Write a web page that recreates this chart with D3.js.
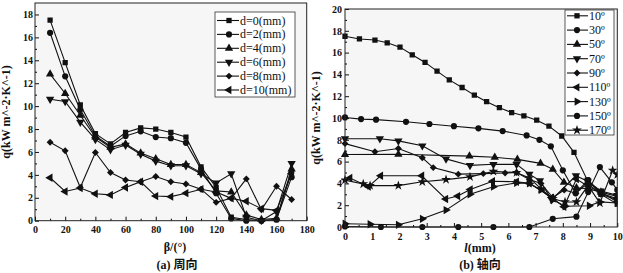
<!DOCTYPE html>
<html>
<head>
<meta charset="utf-8">
<script src="https://cdn.jsdelivr.net/npm/d3@7"></script>
<style>
	body{ margin:0; background:#fff; }
	svg text{ font-family:"Liberation Serif","Times New Roman",serif; fill:#111; }
	.cap{ font-family:"Liberation Serif","Noto Sans CJK SC",serif; }
</style>
</head>
<body>
<svg id="chart" width="623" height="273"></svg>
<script>
// (a) circumferential: q vs beta for each d
var beta = [10, 20, 30, 40, 50, 60, 70, 80, 90, 100, 110, 120, 130, 140, 150, 160, 170];
var d0  = [17.5, 13.8, 10.1, 7.6, 6.7, 7.7, 8.1, 8.0, 7.7, 7.3, 4.7, 2.9, 0.3, 0.1, 0.0, 0.1, 4.3];
var d2  = [16.4, 12.6, 9.7, 7.4, 6.5, 7.4, 7.8, 7.3, 7.2, 6.8, 4.5, 2.4, 0.2, 0.0, 0.0, 0.1, 3.8];
var d4  = [12.8, 11.1, 9.2, 7.3, 6.4, 6.7, 5.9, 5.4, 4.9, 4.9, 4.2, 2.6, 2.5, 0.5, 0.1, 0.2, 4.5];
var d6  = [10.6, 10.4, 8.6, 7.1, 6.2, 6.6, 5.8, 5.2, 4.8, 4.8, 4.1, 3.3, 4.1, 0.3, 0.0, 0.8, 5.0];
var d8  = [6.85, 6.1, 2.9, 5.95, 4.2, 3.55, 3.4, 3.85, 3.4, 3.2, 2.75, 1.6, 1.95, 3.65, 0.95, 3.0, 1.85];
var d10 = [3.75, 2.55, 2.85, 2.35, 2.25, 2.9, 3.4, 2.15, 2.1, 2.4, 2.75, 2.5, 1.95, 1.7, 1.05, 0.9, 4.1];
var dLabels = ["d=0(mm)", "d=2(mm)", "d=4(mm)", "d=6(mm)", "d=8(mm)", "d=10(mm)"];
var dMarks = ["square", "circle", "up", "down", "diamond", "left"];

// (b) axial: [l, q] pairs for each angle
var a10  = [[0,17.5],[0.53,17.25],[1.1,17.15],[1.55,16.9],[2.02,16.5],[2.47,15.8],[2.94,15.1],[3.38,14.3],[3.83,13.5],[4.3,12.8],[4.75,12.1],[5.2,11.5],[5.67,10.95],[6.12,10.5],[6.57,10.2],[7.04,9.8],[7.49,9.25],[7.96,8.35],[8.41,6.85],[8.9,4.3],[9.4,3.0],[10,2.1]];
var a30  = [[0,10.05],[0.59,9.9],[1.14,9.85],[2.24,9.65],[3.1,9.45],[4.0,9.25],[4.9,9.05],[5.79,8.8],[6.67,8.4],[7.14,8.0],[7.56,7.4],[8.0,5.2],[8.47,3.1],[8.93,4.3],[9.4,3.1],[10,2.6]];
var a50  = [[0,6.65],[1.96,6.67],[4.57,6.5],[5.5,6.4],[6.33,6.2],[7.18,5.84],[7.63,5.3],[8.04,4.1],[8.5,3.6],[8.95,3.5],[9.4,3.2],[10,2.8]];
var a70  = [[0,8.1],[1.28,8.1],[1.96,7.9],[2.84,7.45],[3.71,6.25],[4.59,5.65],[5.45,5.75],[6.3,5.75],[6.77,4.85],[7.16,4.25],[7.59,2.5],[8.48,4.7],[8.91,4.2],[9.4,3.3],[10,2.9]];
var a90  = [[0,7.65],[1.1,6.9],[1.96,7.2],[2.84,6.35],[3.24,5.45],[4.16,4.85],[5.08,4.9],[5.88,4.95],[6.3,5.0],[6.77,4.35],[7.2,4.0],[7.63,2.7],[8.05,3.4],[8.48,3.1],[8.9,4.0],[9.4,3.0],[10,2.5]];
var a110 = [[0.18,4.5],[0.86,3.7],[1.31,4.7],[2.82,4.7],[3.7,2.57],[4.14,2.84],[4.6,3.45],[5.42,4.2],[6.3,4.15],[6.77,4.0],[7.59,2.7],[8.04,1.85],[8.5,4.4],[8.95,3.7],[9.4,3.2],[10,2.3]];
var a130 = [[0,0.3],[0.92,0.25],[1.96,0.2],[2.84,0.75],[3.71,1.55],[4.59,3.0],[5.45,3.7],[6.3,4.05],[6.77,4.0],[7.2,3.4],[7.63,2.5],[8.08,1.9],[8.97,1.95],[9.36,2.3],[10,2.2]];
var a150 = [[0,0.05],[1.32,0.0],[2.84,0.0],[4.16,0.0],[5.45,0.0],[6.77,0.0],[7.63,0.75],[8.5,0.95],[8.93,3.2],[9.36,5.5],[9.8,4.1],[10,3.4]];
var a170 = [[0,4.3],[0.67,3.95],[0.92,3.8],[1.96,3.8],[2.84,4.15],[3.71,4.35],[4.59,4.6],[5.45,5.1],[6.3,5.0],[6.77,4.5],[7.2,3.5],[7.63,2.6],[8.08,2.3],[8.5,2.3],[8.93,3.8],[9.36,2.2],[9.83,5.2],[10,4.8]];
var aLabels = ["10º", "30º", "50º", "70º", "90º", "110º", "130º", "150º", "170º"];
var aMarks = ["square", "circle", "up", "down", "diamond", "left", "right", "circle", "star"];

var yTitle = "q(kW m^-2·K^-1)";

;(function(){
	var svg = d3.select("#chart");

	function markPath(kind){
		var sym = d3.symbol();
		if (kind == "square") return { d: sym.type(d3.symbolSquare).size(28)(), r: 0 };
		if (kind == "circle") return { d: sym.type(d3.symbolCircle).size(30)(), r: 0 };
		if (kind == "diamond") return { d: sym.type(d3.symbolSquare).size(24)(), r: 45 };
		if (kind == "star") return { d: sym.type(d3.symbolStar).size(30)(), r: 0 };
		var rot = { up: 0, down: 180, left: -90, right: 90 };
		return { d: sym.type(d3.symbolTriangle).size(30)(), r: rot[kind] };
	};

	function drawPanel(p){
		var x = d3.scaleLinear().domain(p.xdomain).range(p.xrange);
		var y = d3.scaleLinear().domain(p.ydomain).range(p.yrange);
		var g = svg.append("g");

		g.append("rect")
			.attr("x", p.xrange[0]).attr("y", p.yrange[1])
			.attr("width", p.xrange[1] - p.xrange[0])
			.attr("height", p.yrange[0] - p.yrange[1])
			.attr("fill", "#f6f6f6");

		var clipId = "clip" + p.id;
		g.append("clipPath").attr("id", clipId)
			.append("rect")
			.attr("x", p.xrange[0] - 4).attr("y", p.yrange[1])
			.attr("width", p.xrange[1] - p.xrange[0] + 4)
			.attr("height", p.yrange[0] - p.yrange[1] + 4);

		// minor ticks
		g.append("g")
			.attr("transform", "translate(0," + p.yrange[0] + ")")
			.call(d3.axisBottom(x).tickValues(p.xminor).tickSize(-2).tickFormat(""))
			.call(function(s){ s.select(".domain").remove(); });
		g.append("g")
			.attr("transform", "translate(" + p.xrange[0] + ",0)")
			.call(d3.axisLeft(y).tickValues(p.yminor).tickSize(-2).tickFormat(""))
			.call(function(s){ s.select(".domain").remove(); });

		var gx = g.append("g")
			.attr("transform", "translate(0," + p.yrange[0] + ")")
			.call(d3.axisBottom(x).tickValues(p.xticks).tickSize(-4).tickPadding(p.xpad).tickFormat(d3.format("d")));
		var gy = g.append("g")
			.attr("transform", "translate(" + p.xrange[0] + ",0)")
			.call(d3.axisLeft(y).tickValues(p.yticks).tickSize(-4).tickPadding(p.ypad).tickFormat(d3.format("d")));
		[gx, gy].forEach(function(a){
			a.select(".domain").remove();
			a.selectAll("text")
				.style("font-size", "10px")
				.style("font-weight", "bold")
				.style("font-family", "'Liberation Serif', serif");
			a.selectAll("line").attr("stroke", "#111");
		});

		// series
		var line = d3.line()
			.x(function(d){ return x(d[0]); })
			.y(function(d){ return y(d[1]); });
		var data = g.append("g").attr("clip-path", "url(#" + clipId + ")");
		p.series.forEach(function(s, i){
			data.append("path")
				.attr("d", line(s))
				.attr("fill", "none")
				.attr("stroke", "#111")
				.attr("stroke-width", 1.1);
			var m = markPath(p.marks[i]);
			data.selectAll("path.m" + i)
				.data(s)
				.enter().append("path")
					.attr("class", "m" + i)
					.attr("d", m.d)
					.attr("fill", "#111")
					.attr("transform", function(d){ return "translate(" + x(d[0]) + "," + y(d[1]) + ") rotate(" + m.r + ")"; });
		});

		g.append("rect")
			.attr("x", p.xrange[0]).attr("y", p.yrange[1])
			.attr("width", p.xrange[1] - p.xrange[0])
			.attr("height", p.yrange[0] - p.yrange[1])
			.attr("fill", "none")
			.attr("stroke", "#222")
			.attr("stroke-width", 1);

		// legend
		var L = p.legend;
		g.append("rect")
			.attr("x", L.x).attr("y", L.y)
			.attr("width", L.w).attr("height", L.h)
			.attr("fill", "#fff")
			.attr("stroke", "#333")
			.attr("stroke-width", 0.8);
		p.labels.forEach(function(t, i){
			var yy = L.y0 + i * L.dy;
			g.append("line")
				.attr("x1", L.x1).attr("x2", L.x2)
				.attr("y1", yy).attr("y2", yy)
				.attr("stroke", "#111").attr("stroke-width", 1.1);
			var m = markPath(p.marks[i]);
			g.append("path")
				.attr("d", m.d).attr("fill", "#111")
				.attr("transform", "translate(" + L.xm + "," + yy + ") rotate(" + m.r + ")");
			g.append("text")
				.attr("x", L.xt).attr("y", yy + 4)
				.style("font-size", "12px")
				.text(t);
		});

		// titles
		g.append("text")
			.attr("transform", "translate(" + p.ytitle[0] + "," + p.ytitle[1] + ") rotate(-90)")
			.attr("text-anchor", "middle")
			.style("font-size", "12px")
			.style("font-weight", "bold")
			.text(yTitle);
		var xt = g.append("text")
			.attr("x", p.xtitle[0]).attr("y", p.xtitle[1])
			.attr("text-anchor", "middle")
			.style("font-size", "12px")
			.style("font-weight", "bold");
		p.xtitleParts.forEach(function(part){
			xt.append("tspan").style("font-style", part[1]).text(part[0]);
		});
		g.append("text")
			.attr("class", "cap")
			.attr("x", p.caption[0]).attr("y", p.caption[1])
			.attr("text-anchor", "middle")
			.style("font-size", "12px")
			.style("font-weight", "bold")
			.text(p.captionText);
	};

	drawPanel({
		id: "a",
		xdomain: [0, 180], xrange: [35, 306.7],
		ydomain: [0, 19], yrange: [220.7, 3],
		xticks: d3.range(0, 181, 20), xminor: d3.range(10, 180, 20),
		yticks: d3.range(0, 19, 2), yminor: d3.range(1, 19, 2),
		xpad: 5, ypad: 2,
		series: [d0, d2, d4, d6, d8, d10].map(function(s){ return s.map(function(v, i){ return [beta[i], v]; }); }),
		marks: dMarks, labels: dLabels,
		legend: { x: 215, y: 12, w: 80, h: 85, y0: 20.5, dy: 13.9, x1: 217, x2: 239, xm: 229, xt: 240 },
		ytitle: [10, 112], xtitle: [175, 251], xtitleParts: [["β/(°)", "normal"]],
		caption: [177, 269], captionText: "(a) 周向"
	});

	drawPanel({
		id: "b",
		xdomain: [0, 10], xrange: [345, 617.3],
		ydomain: [0, 20], yrange: [227, 9],
		xticks: d3.range(0, 11, 1), xminor: d3.range(0.5, 10, 1),
		yticks: d3.range(0, 21, 2), yminor: d3.range(1, 20, 2),
		xpad: 6, ypad: 3,
		series: [a10, a30, a50, a70, a90, a110, a130, a150, a170],
		marks: aMarks, labels: aLabels,
		legend: { x: 565, y: 10, w: 49, h: 125, y0: 15.8, dy: 14.3, x1: 567, x2: 588, xm: 577, xt: 589 },
		ytitle: [320, 118], xtitle: [480, 252], xtitleParts: [["l", "italic"], ["(mm)", "normal"]],
		caption: [480, 269], captionText: "(b) 轴向"
	});
})();
</script>
</body>
</html>
